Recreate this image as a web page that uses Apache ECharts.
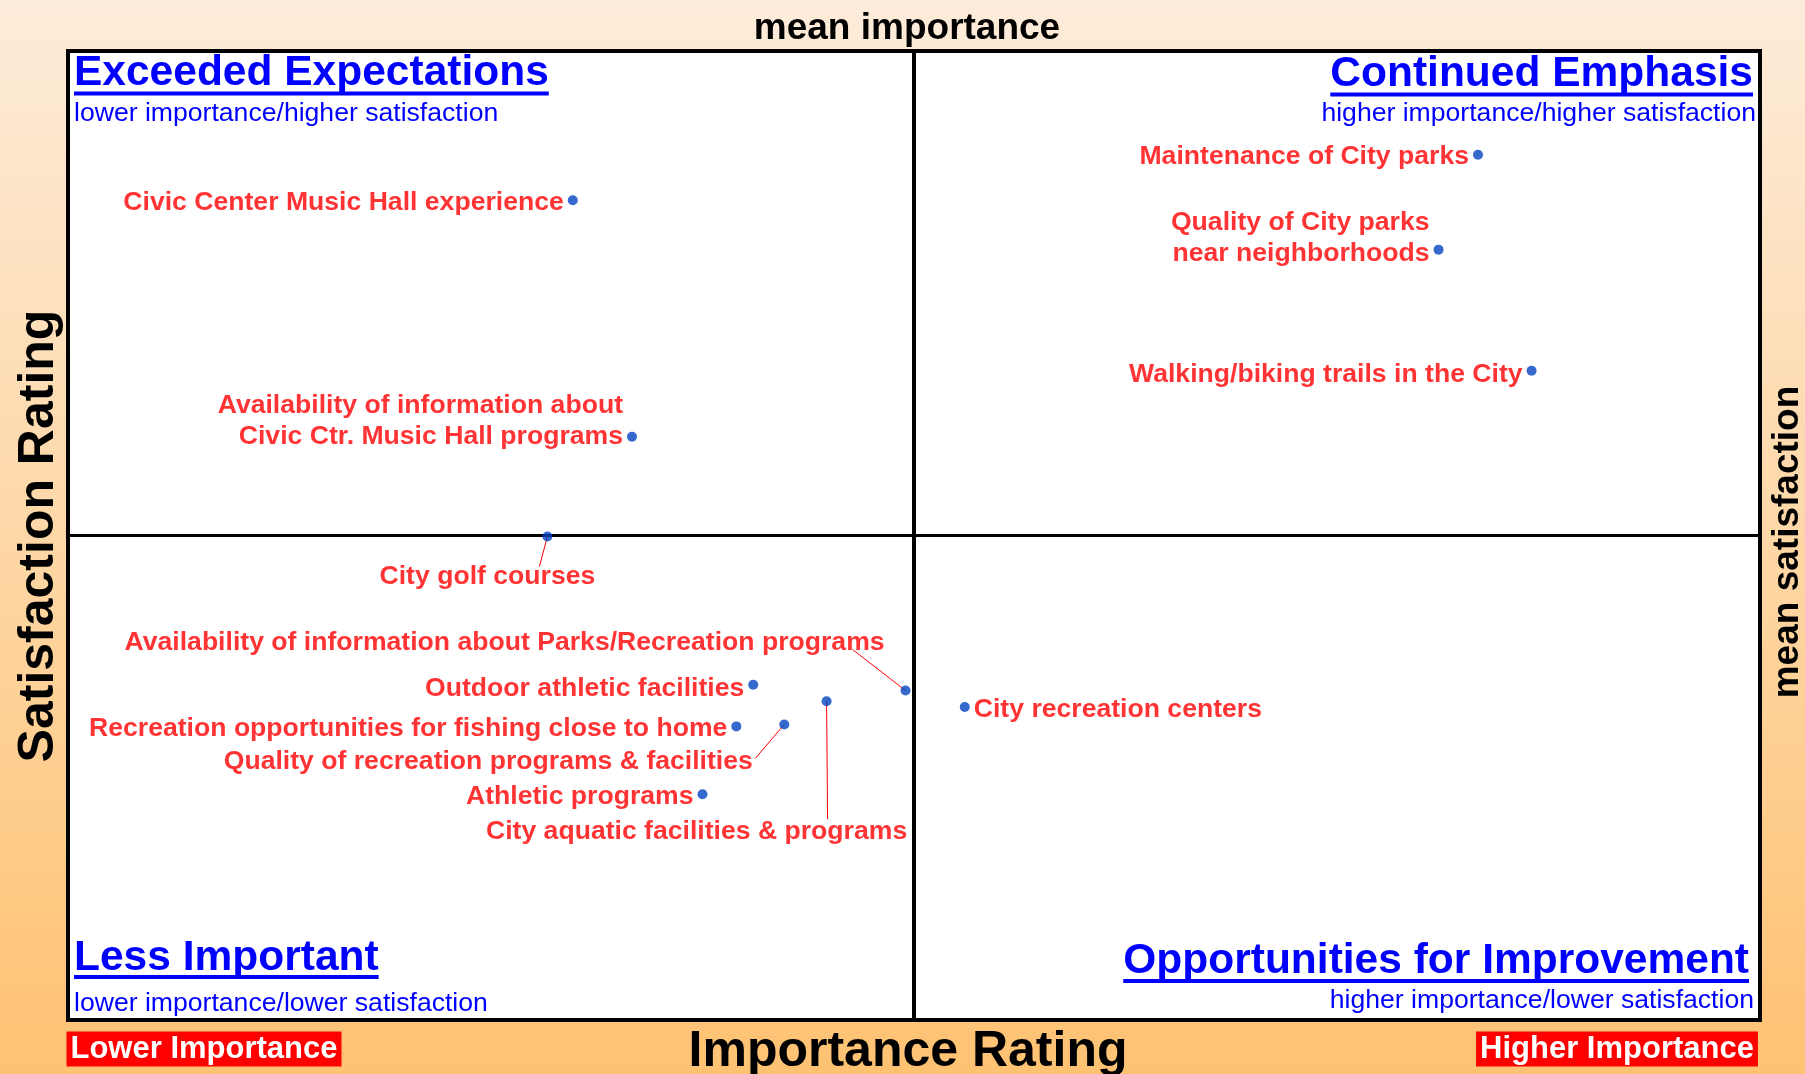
<!DOCTYPE html>
<html><head><meta charset="utf-8">
<script src="https://cdn.jsdelivr.net/npm/echarts@6/dist/echarts.min.js"></script>
<style>html,body{margin:0;padding:0;width:1805px;height:1074px;overflow:hidden}#c{width:1805px;height:1074px}</style>
</head><body><div id="c"></div>
<script>
// ---- data ----
const names = [
  'Civic Center Music Hall experience',
  'Availability of information about\nCivic Ctr. Music Hall programs',
  'City golf courses',
  'Availability of information about Parks/Recreation programs',
  'Outdoor athletic facilities',
  'Recreation opportunities for fishing close to home',
  'Quality of recreation programs & facilities',
  'Athletic programs',
  'City aquatic facilities & programs',
  'City recreation centers',
  'Maintenance of City parks',
  'Quality of City parks\nnear neighborhoods',
  'Walking/biking trails in the City'
];
const importance   = [17.9, 20.0, 17.0, 29.7, 24.3, 23.7, 25.4, 22.5, 26.9, 31.8, 50.0, 48.6, 51.9];
const satisfaction = [84.6, 60.2, 49.9, 34.0, 34.6, 30.3, 30.5, 23.3, 32.9, 32.3, 89.3, 79.5, 67.0];
const meanImportance = 30;
const meanSatisfaction = 50;
const xRange = [0, 60];
const yRange = [0, 100];

const quadrantTitles = ['Exceeded Expectations', 'Continued Emphasis', 'Less Important', 'Opportunities for Improvement'];
const quadrantSubtitles = ['lower importance/higher satisfaction', 'higher importance/higher satisfaction',
                           'lower importance/lower satisfaction', 'higher importance/lower satisfaction'];

// ---- label placement (style only, pixel offsets) ----
const labelSpec = {
  1: {dy: -17.5},
  2: {move: [-60, 40], leader: [-8, 30]},
  3: {move: [-401, -48], leader: [-53, -41]},
  4: {dy: 2},
  6: {move: [-296, 37], leader: [-29, 34]},
  8: {move: [-130, 130], leader: [1, 118]},
  9: {position: 'right', dy: 1},
  11: {dy: -13},
  12: {dy: 2}
};

const FONT = "'Liberation Sans', Arial, Helvetica, sans-serif";
const seriesData = names.map((n, i) => {
  const s = labelSpec[i] || {};
  const item = {name: n, value: [importance[i], satisfaction[i]]};
  const lab = {};
  if (s.move) lab.position = 'inside';
  if (s.position) lab.position = s.position;
  item.label = lab;
  return item;
});
const leaderData = [];
names.forEach((n, i) => { if (labelSpec[i] && labelSpec[i].leader) leaderData.push([importance[i], satisfaction[i], i]); });

const ctx = document.createElement('canvas').getContext('2d');
function tw(text, size, weight) { ctx.font = weight + ' ' + size + 'px ' + FONT; return ctx.measureText(text).width; }

const graphics = [];
function txt(text, x, y, size, weight, color, align, extra) {
  const g = {type: 'text', x: x, y: y, z: 100, silent: true,
    style: Object.assign({text: text, fill: color, fontSize: size, fontWeight: weight, fontFamily: FONT,
      align: align, verticalAlign: 'middle'}, extra || {})};
  graphics.push(g);
  return g;
}
function titled(title, sub, side, tx, ty, uy, sx, sy) {
  txt(title, tx, ty, 42.5, 'bold', '#0000ff', side);
  const w = tw(title, 42.5, 'bold');
  graphics.push({type: 'rect', z: 100, silent: true,
    shape: {x: side === 'left' ? tx : tx - w, y: uy, width: w, height: 4}, style: {fill: '#0000ff'}});
  txt(sub, sx, sy, 26.6, 'normal', '#0000ff', side);
}
titled(quadrantTitles[0], quadrantSubtitles[0], 'left', 74, 73.5, 91.5, 74, 113.5);
titled(quadrantTitles[1], quadrantSubtitles[1], 'right', 1753, 74.5, 92.5, 1756, 113.5);
titled(quadrantTitles[2], quadrantSubtitles[2], 'left', 74, 958.5, 975, 74, 1004);
titled(quadrantTitles[3], quadrantSubtitles[3], 'right', 1749, 961.5, 979, 1754, 1000.5);

txt('mean importance', 907, 28.5, 37, 'bold', '#000', 'center');
txt('Importance Rating', 908, 1052, 50, 'bold', '#000', 'center');
const sr = txt('Satisfaction Rating', 39, 536, 50, 'bold', '#000', 'center');
sr.rotation = Math.PI / 2;
const ms = txt('mean satisfaction', 1788, 542, 37, 'bold', '#000', 'center');
ms.rotation = Math.PI / 2;
txt('Lower Importance', 204, 1049, 31, 'bold', '#fff', 'center', {backgroundColor: '#ff0000', padding: [2, 4, 2, 4], lineHeight: 31});
txt('Higher Importance', 1617, 1049, 31, 'bold', '#fff', 'center', {backgroundColor: '#ff0000', padding: [2, 4, 2, 4], lineHeight: 31});

const chart = echarts.init(document.getElementById('c'), null, {renderer: 'canvas'});
chart.setOption({
  animation: false,
  backgroundColor: {type: 'linear', x: 0, y: 0, x2: 0, y2: 1,
    colorStops: [{offset: 0, color: '#fdecda'}, {offset: 1, color: '#fec272'}]},
  grid: {left: 68, top: 51, width: 1692, height: 969, show: true, backgroundColor: '#ffffff',
    borderColor: '#000000', borderWidth: 4},
  xAxis: {type: 'value', min: xRange[0], max: xRange[1], show: false, splitLine: {show: false}},
  yAxis: {type: 'value', min: yRange[0], max: yRange[1], show: false, splitLine: {show: false}},
  graphic: graphics,
  series: [{
    type: 'custom',
    silent: true,
    z: 4,
    data: leaderData,
    renderItem: function (params, api) {
      const p = api.coord([api.value(0), api.value(1)]);
      const o = labelSpec[api.value(2)].leader;
      return {type: 'line', shape: {x1: p[0], y1: p[1], x2: p[0] + o[0], y2: p[1] + o[1]},
        style: {stroke: '#ff0000', lineWidth: 1}};
    }
  }, {
    type: 'scatter',
    symbolSize: 10,
    itemStyle: {color: '#0443c2'},
    data: seriesData,
    label: {show: true, formatter: '{b}', position: 'left', distance: 4, color: '#ff0000',
      fontSize: 26.6, fontWeight: 'bold', fontFamily: FONT, lineHeight: 31},
    labelLine: {show: false},
    labelLayout: function (p) {
      const s = labelSpec[p.dataIndex] || {};
      if (s.move) {
        return {x: p.rect.x + p.rect.width / 2 + s.move[0], y: p.rect.y + p.rect.height / 2 + s.move[1],
          align: 'center', verticalAlign: 'middle'};
      }
      return {dy: (s.dy || 0) + 2};
    },
    emphasis: {disabled: true},
    markLine: {
      silent: true, symbol: 'none', label: {show: false}, animation: false,
      data: [
        {xAxis: meanImportance, lineStyle: {color: '#000', width: 4, type: 'solid'}},
        {yAxis: meanSatisfaction, lineStyle: {color: '#000', width: 3, type: 'solid'}}
      ]
    },
    z: 5
  }]
});
</script>
</body></html>
